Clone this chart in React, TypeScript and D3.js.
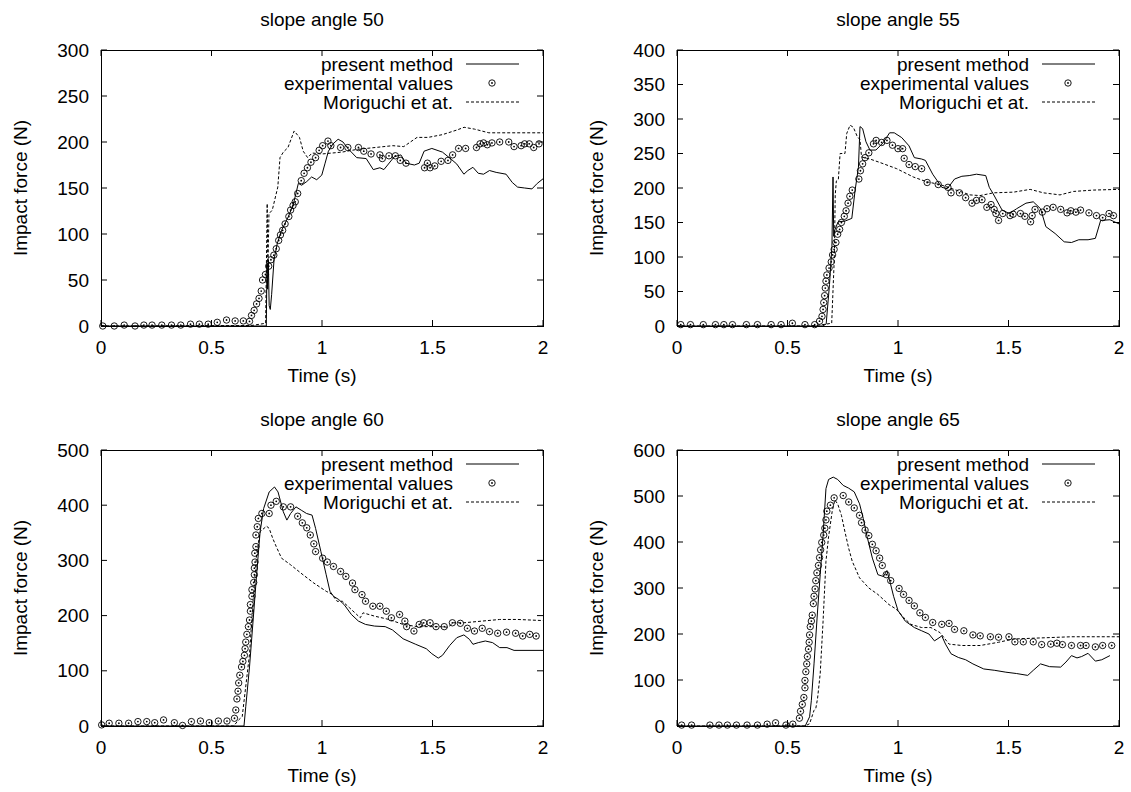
import React from 'react';
import * as d3 from 'd3';

type Pt = [number, number];

// impact force curves, [time (s), force (N)]
const exp50: Pt[] = [[0.008,0],[0.06,0],[0.105,1],[0.154,0],[0.194,1],[0.231,1],[0.275,1],[0.319,1],[0.361,1],[0.405,2],[0.445,2],[0.485,2],[0.526,4],[0.568,6.5],[0.607,5.5],[0.644,5.5],[0.672,5],[0.681,11.5],[0.693,17],[0.704,24],[0.715,30],[0.725,38],[0.731,50],[0.744,56],[0.759,65],[0.769,72],[0.782,77],[0.793,84],[0.804,93],[0.812,99],[0.822,104],[0.833,111],[0.85,119],[0.858,126],[0.869,131],[0.879,135],[0.89,144],[0.906,158],[0.919,166],[0.934,172],[0.95,178],[0.971,183],[0.987,191],[1.003,196],[1.027,201],[1.04,196],[1.084,194],[1.117,194],[1.165,194],[1.189,190],[1.222,187],[1.262,186],[1.273,182],[1.303,185],[1.332,185],[1.354,180],[1.38,177],[1.464,172],[1.477,177],[1.489,172],[1.51,174],[1.539,179],[1.57,180],[1.591,186],[1.618,193],[1.65,193],[1.699,194],[1.715,198],[1.731,199],[1.748,197],[1.769,199],[1.804,200],[1.845,200],[1.869,195],[1.901,196],[1.917,198],[1.938,198],[1.958,194],[1.982,198]];
const present50: Pt[] = [[0,0],[0.748,0],[0.751,68],[0.754,40],[0.757,72],[0.761,22],[0.766,18],[0.772,34],[0.783,72],[0.798,90],[0.817,104],[0.848,119],[0.87,132],[0.893,155],[0.908,153],[0.931,157],[0.953,162],[0.976,159],[0.999,164],[1.014,177],[1.029,190],[1.05,198],[1.073,203],[1.095,200],[1.117,193],[1.157,183],[1.2,182],[1.232,170],[1.262,172],[1.28,170],[1.297,175],[1.327,184],[1.357,186],[1.38,177],[1.418,175],[1.44,177],[1.462,190],[1.497,193],[1.545,189],[1.586,181],[1.61,176],[1.642,165],[1.66,169],[1.683,172.5],[1.707,166],[1.731,165],[1.758,169],[1.788,167],[1.833,165],[1.861,156],[1.885,151],[1.917,150],[1.95,149],[1.974,155],[2,160]];
const mori50: Pt[] = [[0,0],[0.68,0.5],[0.72,2],[0.745,3],[0.752,133],[0.755,60],[0.76,122],[0.775,126],[0.8,151],[0.81,183],[0.825,189],[0.846,194],[0.874,212],[0.898,205],[0.915,190],[0.935,183],[0.955,188],[1,187],[1.09,189],[1.16,192],[1.24,194],[1.32,196],[1.37,195],[1.43,205],[1.48,205],[1.545,208],[1.61,213],[1.643,216],[1.69,214],[1.755,210],[1.8,210],[2,210]];

const exp55: Pt[] = [[0.017,2],[0.061,2],[0.119,2],[0.174,2],[0.212,2],[0.251,2],[0.314,2],[0.364,2],[0.426,2],[0.471,2],[0.522,4],[0.579,2],[0.623,2],[0.645,7],[0.656,14],[0.661,24],[0.664,34],[0.668,44],[0.671,55],[0.674,65],[0.678,74],[0.688,84],[0.698,93],[0.704,103],[0.711,111],[0.719,121],[0.727,133],[0.736,140],[0.744,150],[0.757,159],[0.765,167],[0.774,178],[0.782,188],[0.793,197],[0.823,213],[0.83,225],[0.84,235],[0.851,244],[0.868,251],[0.889,264],[0.901,269],[0.926,266],[0.95,269],[0.975,262],[1,257],[1.021,257],[1.028,243],[1.05,234],[1.078,231],[1.107,228],[1.132,208],[1.182,205],[1.226,201],[1.24,193],[1.278,193],[1.306,186],[1.335,178],[1.355,182],[1.38,183],[1.402,172],[1.421,176],[1.435,169],[1.443,163],[1.455,153],[1.474,163],[1.507,160],[1.521,162],[1.554,163],[1.574,159],[1.6,151],[1.607,160],[1.62,169],[1.653,165],[1.674,170],[1.702,172],[1.736,169],[1.765,164],[1.782,167],[1.805,165],[1.826,168],[1.864,164],[1.898,160],[1.926,157],[1.955,163],[1.975,160]];
const present55: Pt[] = [[0,0],[0.66,0],[0.675,3],[0.69,60],[0.701,115],[0.706,216],[0.709,130],[0.714,139],[0.729,151],[0.76,152],[0.791,156],[0.806,197],[0.821,230],[0.828,289],[0.84,286],[0.855,267],[0.873,255],[0.9,255],[0.934,266],[0.962,280],[0.983,280],[1.017,273],[1.05,261],[1.074,244],[1.107,242],[1.124,240],[1.157,220],[1.198,201],[1.223,199],[1.256,213],[1.289,217],[1.322,218],[1.355,220],[1.397,218],[1.413,201],[1.43,192],[1.471,168],[1.504,163],[1.537,170],[1.579,178],[1.612,180],[1.645,170],[1.669,144],[1.711,134],[1.752,122],[1.785,121],[1.818,125],[1.86,125],[1.893,127],[1.917,153],[1.959,154],[2,148]];
const mori55: Pt[] = [[0,0],[0.6,0],[0.66,2],[0.7,4],[0.712,100],[0.716,190],[0.721,210],[0.73,212],[0.738,250],[0.76,250],[0.768,279],[0.783,291],[0.798,288],[0.815,275],[0.828,270],[0.835,245],[0.873,242],[0.918,237],[0.994,228],[1.069,216],[1.13,209],[1.19,205],[1.235,200],[1.281,195],[1.326,190],[1.371,189],[1.432,193],[1.523,194],[1.598,198],[1.658,193],[1.733,190],[1.794,195],[1.885,197],[2,198]];

const exp60: Pt[] = [[0.003,2],[0.037,5],[0.081,5],[0.125,5],[0.167,8],[0.207,8],[0.243,6],[0.283,11],[0.332,6],[0.369,1],[0.409,8],[0.45,9],[0.49,6],[0.531,9],[0.57,9],[0.604,14],[0.61,29],[0.615,49],[0.62,63],[0.623,78],[0.628,92],[0.636,107],[0.642,117],[0.649,128],[0.652,140],[0.655,152],[0.66,166],[0.667,180],[0.672,192],[0.676,208],[0.676,220],[0.683,235],[0.683,247],[0.691,260],[0.694,274],[0.694,286],[0.697,297],[0.696,313],[0.701,325],[0.701,346],[0.707,361],[0.712,376],[0.728,385],[0.761,385],[0.769,400],[0.793,407],[0.825,397],[0.858,397],[0.89,380],[0.911,368],[0.931,359],[0.947,346],[0.963,330],[0.971,316],[1.003,304],[1.024,297],[1.052,289],[1.084,280],[1.108,271],[1.138,259],[1.149,247],[1.181,238],[1.197,226],[1.23,217],[1.262,217],[1.291,208],[1.314,196],[1.351,202],[1.375,190],[1.383,180],[1.416,172],[1.44,184],[1.46,187],[1.489,187],[1.516,180],[1.553,180],[1.59,187],[1.626,186],[1.658,177],[1.69,172],[1.725,177],[1.758,171],[1.795,168],[1.835,170],[1.876,168],[1.908,163],[1.94,166],[1.969,163]];
const present60: Pt[] = [[0,0],[0.647,0],[0.655,35],[0.672,107],[0.688,190],[0.704,274],[0.72,352],[0.736,394],[0.761,424],[0.785,433],[0.801,424],[0.825,388],[0.841,373],[0.858,385],[0.882,397],[0.906,391],[0.93,385],[0.955,382],[0.971,358],[0.995,316],[1.019,274],[1.036,244],[1.052,235],[1.076,229],[1.1,220],[1.133,202],[1.165,190],[1.197,184],[1.238,181],[1.286,180],[1.319,174],[1.367,158],[1.424,148],[1.472,140],[1.497,131],[1.526,123],[1.545,128],[1.578,146],[1.61,160],[1.642,165],[1.667,157],[1.683,148],[1.707,151],[1.739,154],[1.772,151],[1.804,142],[1.837,142],[1.869,137],[2,137]];
const mori60: Pt[] = [[0,0],[0.6,0],[0.623,11],[0.639,17],[0.672,130],[0.688,226],[0.704,310],[0.72,352],[0.749,362],[0.761,358],[0.777,340],[0.793,325],[0.817,304],[0.858,292],[0.914,274],[0.963,259],[1.019,244],[1.044,239],[1.068,226],[1.092,226],[1.125,214],[1.157,202],[1.173,196],[1.186,205],[1.238,199],[1.303,193],[1.367,184],[1.432,180],[1.481,180],[1.529,180],[1.57,179],[1.594,187],[1.642,187],[1.723,190],[1.804,193],[1.885,193],[2,191]];

const exp65: Pt[] = [[0.021,2],[0.066,2],[0.149,2],[0.19,2],[0.228,2],[0.269,2],[0.317,2],[0.364,2],[0.408,4],[0.446,7],[0.493,2],[0.524,4],[0.554,17],[0.559,32],[0.567,47],[0.574,62],[0.579,83],[0.579,99],[0.583,118],[0.587,135],[0.59,151],[0.595,167],[0.598,182],[0.6,198],[0.603,216],[0.608,228],[0.612,241],[0.617,266],[0.62,282],[0.625,298],[0.628,316],[0.633,333],[0.64,349],[0.645,366],[0.65,383],[0.655,399],[0.664,415],[0.669,430],[0.674,448],[0.678,467],[0.694,480],[0.711,496],[0.752,501],[0.777,487],[0.802,474],[0.826,458],[0.835,442],[0.851,426],[0.868,414],[0.884,395],[0.901,381],[0.917,365],[0.929,349],[0.947,329],[0.967,316],[1.005,299],[1.025,286],[1.05,273],[1.074,261],[1.099,246],[1.124,236],[1.157,225],[1.198,221],[1.231,223],[1.256,210],[1.298,207],[1.339,198],[1.372,196],[1.418,194],[1.455,193],[1.502,194],[1.529,183],[1.567,183],[1.612,183],[1.65,177],[1.691,178],[1.719,180],[1.744,177],[1.785,175],[1.826,175],[1.851,175],[1.893,172],[1.926,175],[1.967,175]];
const present65: Pt[] = [[0,0],[0.58,0],[0.6,20],[0.608,56],[0.62,135],[0.636,250],[0.648,329],[0.661,415],[0.674,516],[0.686,536],[0.707,541],[0.727,536],[0.752,523],[0.777,517],[0.802,509],[0.826,483],[0.843,451],[0.86,412],[0.884,365],[0.909,329],[0.934,325],[0.95,338],[0.967,307],[0.98,282],[1,251],[1.033,228],[1.074,214],[1.107,207],[1.14,200],[1.165,185],[1.19,193],[1.198,196],[1.215,178],[1.24,157],[1.273,149],[1.306,144],[1.339,135],[1.388,124],[1.438,121],[1.488,117],[1.537,114],[1.587,110],[1.612,121],[1.645,135],[1.686,129],[1.736,128],[1.76,139],[1.785,153],[1.81,148],[1.831,151],[1.86,158],[1.893,141],[1.922,144],[1.959,153]];
const mori65: Pt[] = [[0,0],[0.58,0],[0.6,5],[0.62,34],[0.628,38],[0.636,60],[0.648,114],[0.661,228],[0.674,358],[0.686,412],[0.702,466],[0.714,491],[0.727,483],[0.744,458],[0.76,422],[0.777,386],[0.793,358],[0.826,322],[0.868,300],[0.909,286],[0.959,264],[0.992,254],[1.025,236],[1.058,221],[1.107,214],[1.149,214],[1.19,203],[1.231,178],[1.289,175],[1.372,175],[1.455,182],[1.521,189],[1.62,191],[1.785,194],[2,194]];

const titles = ['slope angle 50', 'slope angle 55', 'slope angle 60', 'slope angle 65'];
const yMaxes = [300, 400, 500, 600];
const yStepes = [50, 50, 100, 100];
const xTicks = [0, 0.5, 1, 1.5, 2];
const legendLabels = ['present method', 'experimental values', 'Moriguchi et at.'];

const FONT = '"Liberation Sans", Arial, Helvetica, sans-serif';
const PW = 442;
const PH = 276;
const colLeft = [101, 677];
const rowTop = [50, 450];

function Marker({ cx, cy }: { cx: number; cy: number }) {
  return (
    <g>
      <circle cx={cx} cy={cy} r={3.2} fill="none" stroke="#000" strokeWidth={0.9} />
      <circle cx={cx} cy={cy} r={0.9} fill="#000" />
    </g>
  );
}

function Panel(props: { idx: number; exp: Pt[]; present: Pt[]; mori: Pt[] }) {
  const { idx, exp, present, mori } = props;
  const left = colLeft[idx % 2];
  const top = rowTop[Math.floor(idx / 2)];
  const right = left + PW;
  const bottom = top + PH;
  const yMax = yMaxes[idx];

  const x = d3.scaleLinear().domain([0, 2]).range([left, right]);
  const y = d3.scaleLinear().domain([0, yMax]).range([bottom, top]);
  const line = d3.line<Pt>().x(d => x(d[0])).y(d => y(d[1]));
  const yTicks = d3.range(0, yMax + 1, yStepes[idx]);

  return (
    <g>
      <text x={(left + right) / 2} y={top - 24} textAnchor="middle" fontSize={19}>{titles[idx]}</text>

      {yTicks.map(v => (
        <g key={'y' + v}>
          <line x1={left} x2={left + 6} y1={y(v)} y2={y(v)} stroke="#000" />
          <line x1={right} x2={right - 6} y1={y(v)} y2={y(v)} stroke="#000" />
          <text x={left - 12} y={y(v)} dy="0.35em" textAnchor="end" fontSize={19}>{v}</text>
        </g>
      ))}
      {xTicks.map(t => (
        <g key={'x' + t}>
          <line x1={x(t)} x2={x(t)} y1={bottom} y2={bottom - 6} stroke="#000" />
          <line x1={x(t)} x2={x(t)} y1={top} y2={top + 6} stroke="#000" />
          <text x={x(t)} y={bottom + 28} textAnchor="middle" fontSize={19}>{t}</text>
        </g>
      ))}

      <text x={(left + right) / 2} y={bottom + 56} textAnchor="middle" fontSize={19}>Time (s)</text>
      <text transform={`translate(${left - 74},${(top + bottom) / 2}) rotate(-90)`} textAnchor="middle" fontSize={19}>
        Impact force (N)
      </text>

      <path d={line(present) || ''} fill="none" stroke="#000" strokeWidth={1} />
      <path d={line(mori) || ''} fill="none" stroke="#000" strokeWidth={1} strokeDasharray="3,2" />
      {exp.map((d, i) => <Marker key={i} cx={x(d[0])} cy={y(d[1])} />)}

      {/* legend, top right inside */}
      {legendLabels.map((lab, i) => {
        const ly = top + 14 + i * 19;
        return (
          <g key={lab}>
            <text x={right - 90} y={ly} dy="0.35em" textAnchor="end" fontSize={19}>{lab}</text>
            {i === 0 && <line x1={right - 77} x2={right - 24} y1={ly} y2={ly} stroke="#000" />}
            {i === 1 && <Marker cx={right - 51} cy={ly} />}
            {i === 2 && <line x1={right - 77} x2={right - 24} y1={ly} y2={ly} stroke="#000" strokeDasharray="3,2" />}
          </g>
        );
      })}

      <rect x={left} y={top} width={PW} height={PH} fill="none" stroke="#000" strokeWidth={1} shapeRendering="crispEdges" />
    </g>
  );
}

export default function App() {
  return (
    <div style={{ position: 'absolute', left: 0, top: 0 }}>
      <svg width={1131} height={792} style={{ display: 'block', background: '#fff' }} fontFamily={FONT} fill="#000">
        <Panel idx={0} exp={exp50} present={present50} mori={mori50} />
        <Panel idx={1} exp={exp55} present={present55} mori={mori55} />
        <Panel idx={2} exp={exp60} present={present60} mori={mori60} />
        <Panel idx={3} exp={exp65} present={present65} mori={mori65} />
      </svg>
    </div>
  );
}
